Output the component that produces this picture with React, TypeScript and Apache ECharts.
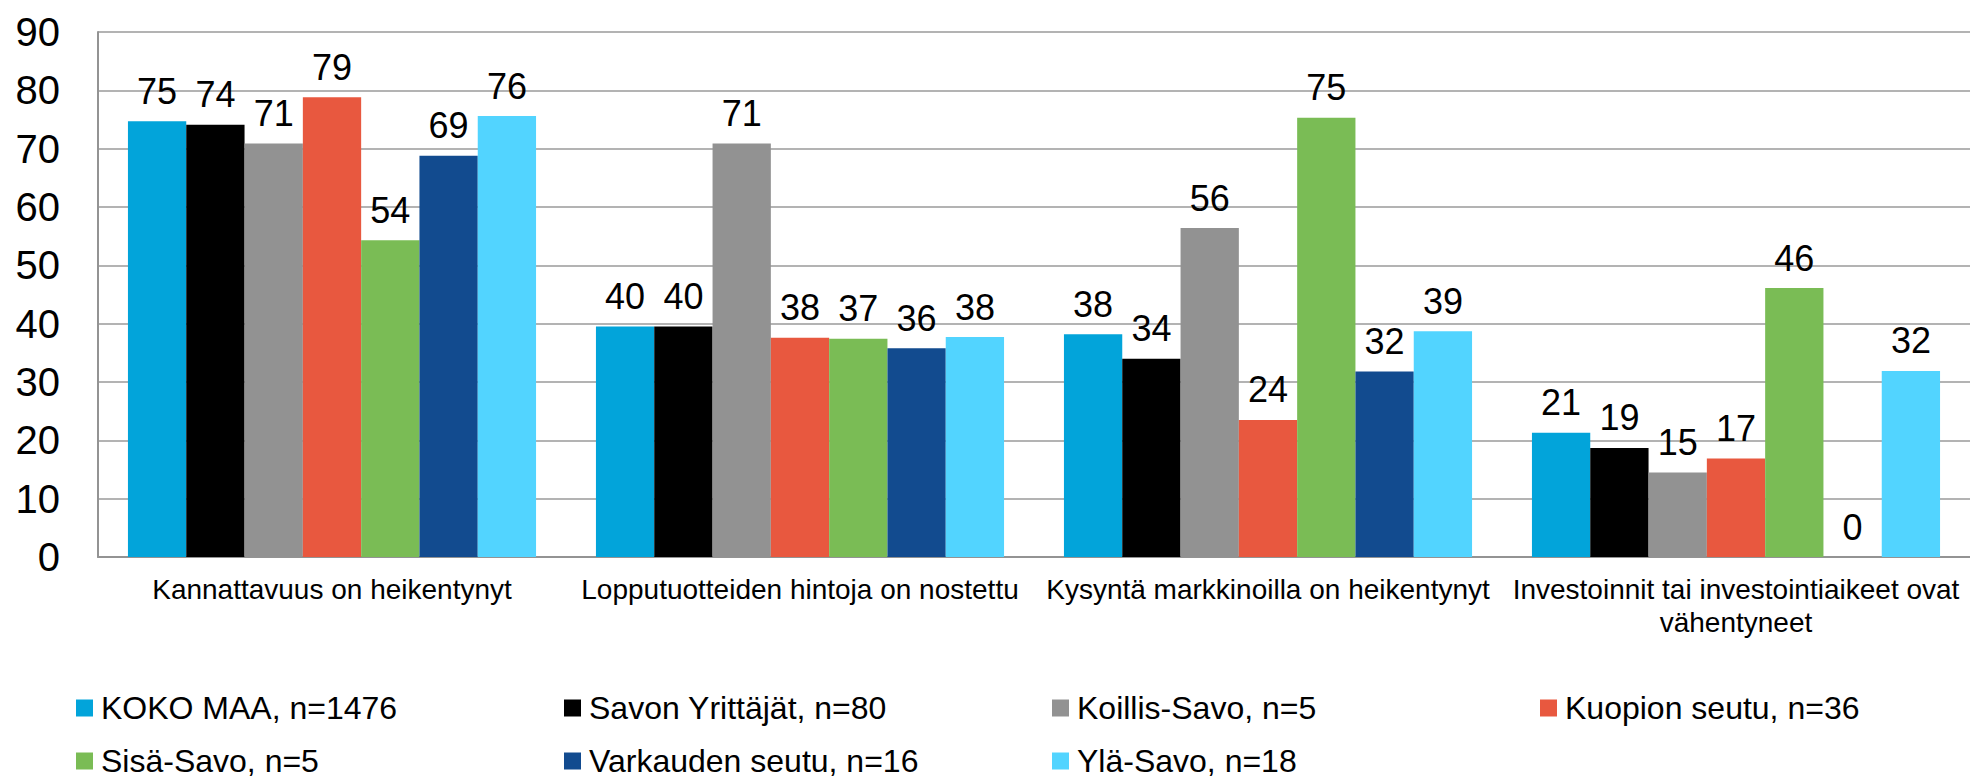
import React, { useEffect, useRef } from "react";
import * as echarts from "echarts";

const categories = [
  "Kannattavuus on heikentynyt",
  "Lopputuotteiden hintoja on nostettu",
  "Kysyntä markkinoilla on heikentynyt",
  "Investoinnit tai investointiaikeet ovat\nvähentyneet",
];

const seriesNames = [
  "KOKO MAA, n=1476",
  "Savon Yrittäjät, n=80",
  "Koillis-Savo, n=5",
  "Kuopion seutu, n=36",
  "Sisä-Savo, n=5",
  "Varkauden seutu, n=16",
  "Ylä-Savo, n=18",
];

const colors = ["#02A4DA", "#000000", "#929292", "#E8583F", "#7ABC55", "#124B8F", "#52D4FF"];

const kokoMaa = [74.7, 39.5, 38.2, 21.3];
const savonYrittajat = [74.1, 39.5, 34.0, 18.7];
const koillisSavo = [70.9, 70.9, 56.4, 14.5];
const kuopionSeutu = [78.8, 37.6, 23.5, 16.9];
const sisaSavo = [54.3, 37.4, 75.3, 46.1];
const varkaudenSeutu = [68.8, 35.8, 31.8, 0];
const ylaSavo = [75.6, 37.7, 38.7, 31.9];

const seriesValues = [kokoMaa, savonYrittajat, koillisSavo, kuopionSeutu, sisaSavo, varkaudenSeutu, ylaSavo];

const yTicks = { min: 0, max: 90, interval: 10 };

const FONT = "'Liberation Sans', Arial, sans-serif";

export default function App() {
  const ref = useRef<HTMLDivElement>(null);

  useEffect(() => {
    if (!ref.current) return;
    const chart = echarts.init(ref.current, null, { renderer: "svg" });

    const legendCommon = {
      left: 76,
      orient: "horizontal" as const,
      padding: 0,
      icon: "rect",
      itemWidth: 17,
      itemHeight: 17,
      itemGap: 63,
      selectedMode: false,
      textStyle: {
        fontFamily: FONT,
        fontSize: 32,
        color: "#000",
        width: 400,
        lineHeight: 30,
        padding: [0, 0, 0, 3],
      },
    };

    chart.setOption({
      animation: false,
      color: colors,
      textStyle: { fontFamily: FONT },
      grid: { left: 98, right: 0, top: 32, bottom: 226, containLabel: false },
      legend: [
        { ...legendCommon, top: 692, data: seriesNames.slice(0, 4) },
        { ...legendCommon, top: 745, data: seriesNames.slice(4) },
      ],
      xAxis: {
        type: "category",
        data: categories,
        axisLine: { show: true, lineStyle: { color: "#939393", width: 2 } },
        axisTick: { show: false },
        axisLabel: {
          interval: 0,
          margin: 16,
          fontFamily: FONT,
          fontSize: 28,
          lineHeight: 33,
          color: "#000",
          align: "center",
        },
      },
      yAxis: {
        type: "value",
        min: yTicks.min,
        max: yTicks.max,
        interval: yTicks.interval,
        axisLine: { show: true, lineStyle: { color: "#939393", width: 2 } },
        axisTick: { show: false },
        axisLabel: { margin: 38, fontFamily: FONT, fontSize: 40, color: "#000" },
        splitLine: { show: true, lineStyle: { color: "#9a9a9a", width: 1.5 } },
      },
      series: seriesNames.map((name, i) => ({
        name,
        type: "bar",
        data: seriesValues[i],
        barGap: "0%",
        barCategoryGap: "12.8%",
        itemStyle: { color: colors[i] },
        label: {
          show: true,
          position: "top",
          distance: 12,
          fontFamily: FONT,
          fontSize: 36,
          color: "#000",
          formatter: (p: any) => String(Math.round(p.value)),
        },
      })),
    });

    return () => chart.dispose();
  }, []);

  return (
    <div
      ref={ref}
      style={{ position: "fixed", left: 0, top: 0, width: 1970, height: 783, background: "#fff" }}
    />
  );
}
